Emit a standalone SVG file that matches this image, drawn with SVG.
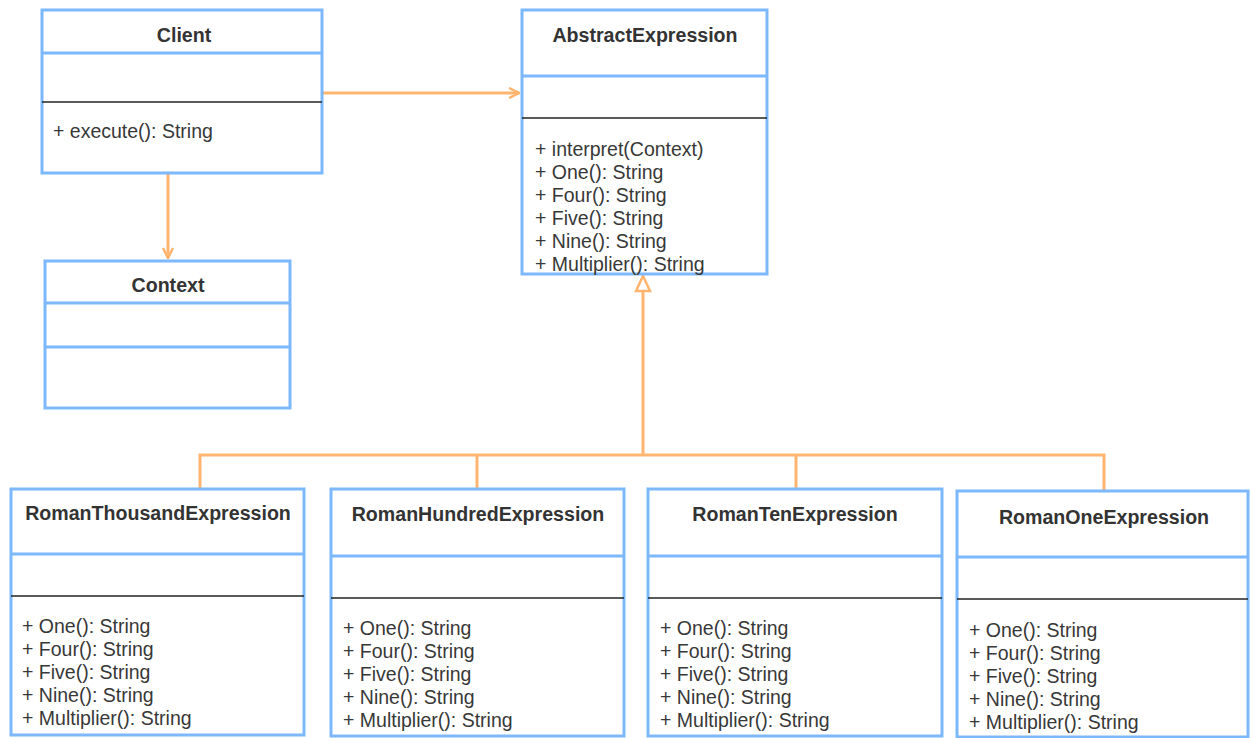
<svg xmlns="http://www.w3.org/2000/svg" width="1250" height="738" viewBox="0 0 1250 738">
<style>
.box{fill:#fff;stroke:#7db7fc;stroke-width:3}
.hl{stroke:#7db7fc;stroke-width:3}
.sep{stroke:#222;stroke-width:1.5}
.t{font-family:"Liberation Sans",Arial,sans-serif;font-size:19.6px;font-weight:bold;fill:#333;text-anchor:middle}
.m{font-family:"Liberation Sans",Arial,sans-serif;font-size:19.5px;fill:#383838}
.c{fill:none;stroke:#ffb570;stroke-width:3}
</style>
<defs>
<marker id="open" viewBox="0 0 12 12" refX="11" refY="6" markerWidth="12" markerHeight="12" markerUnits="userSpaceOnUse" orient="auto">
<path d="M1,1 L11,6 L1,11" fill="none" stroke="#ffb570" stroke-width="2.5"/>
</marker>
<marker id="tri" viewBox="0 0 18 18" refX="17" refY="9" markerWidth="18" markerHeight="18" markerUnits="userSpaceOnUse" orient="auto">
<path d="M2,2 L17,9 L2,16 Z" fill="#fff" stroke="#ffb570" stroke-width="2.5"/>
</marker>
</defs>
<g id="connectors">
<path class="c" d="M323,93 H519" marker-end="url(#open)"/>
<path class="c" d="M168,174 V258" marker-end="url(#open)"/>
<path class="c" d="M200,489 V455 H1104 V491"/>
<path class="c" d="M477,489 V455"/>
<path class="c" d="M796,489 V455"/>
<path class="c" d="M643,455 V276" marker-end="url(#tri)"/>
</g>
<g id="Client">
<rect class="box" x="42" y="10" width="280" height="163"/>
<line class="hl" x1="42" y1="53" x2="322" y2="53"/>
<line class="sep" x1="42" y1="102" x2="322" y2="102"/>
<text class="t" x="184" y="42">Client</text>
<text class="m" x="53" y="138">+ execute(): String</text>
</g>
<g id="AbstractExpression">
<rect class="box" x="522" y="10" width="245" height="264"/>
<line class="hl" x1="522" y1="76" x2="767" y2="76"/>
<line class="sep" x1="522" y1="118" x2="767" y2="118"/>
<text class="t" x="645" y="42">AbstractExpression</text>
<text class="m" x="535" y="156">+ interpret(Context)</text>
<text class="m" x="535" y="179">+ One(): String</text>
<text class="m" x="535" y="202">+ Four(): String</text>
<text class="m" x="535" y="225">+ Five(): String</text>
<text class="m" x="535" y="248">+ Nine(): String</text>
<text class="m" x="535" y="271">+ Multiplier(): String</text>
</g>
<g id="Context">
<rect class="box" x="45" y="261" width="245" height="147"/>
<line class="hl" x1="45" y1="303" x2="290" y2="303"/>
<line class="hl" x1="45" y1="347" x2="290" y2="347"/>
<text class="t" x="168" y="292">Context</text>
</g>
<g id="RomanThousandExpression">
<rect class="box" x="11" y="489" width="293" height="246"/>
<line class="hl" x1="11" y1="554" x2="304" y2="554"/>
<line class="sep" x1="11" y1="596" x2="304" y2="596"/>
<text class="t" x="158" y="520">RomanThousandExpression</text>
<text class="m" x="22" y="633">+ One(): String</text>
<text class="m" x="22" y="656">+ Four(): String</text>
<text class="m" x="22" y="679">+ Five(): String</text>
<text class="m" x="22" y="702">+ Nine(): String</text>
<text class="m" x="22" y="725">+ Multiplier(): String</text>
</g>
<g id="RomanHundredExpression">
<rect class="box" x="331" y="489" width="293" height="247"/>
<line class="hl" x1="331" y1="556" x2="624" y2="556"/>
<line class="sep" x1="331" y1="598" x2="624" y2="598"/>
<text class="t" x="478" y="521">RomanHundredExpression</text>
<text class="m" x="343" y="635">+ One(): String</text>
<text class="m" x="343" y="658">+ Four(): String</text>
<text class="m" x="343" y="681">+ Five(): String</text>
<text class="m" x="343" y="704">+ Nine(): String</text>
<text class="m" x="343" y="727">+ Multiplier(): String</text>
</g>
<g id="RomanTenExpression">
<rect class="box" x="648" y="489" width="294" height="247"/>
<line class="hl" x1="648" y1="556" x2="942" y2="556"/>
<line class="sep" x1="648" y1="598" x2="942" y2="598"/>
<text class="t" x="795" y="521">RomanTenExpression</text>
<text class="m" x="660" y="635">+ One(): String</text>
<text class="m" x="660" y="658">+ Four(): String</text>
<text class="m" x="660" y="681">+ Five(): String</text>
<text class="m" x="660" y="704">+ Nine(): String</text>
<text class="m" x="660" y="727">+ Multiplier(): String</text>
</g>
<g id="RomanOneExpression">
<rect class="box" x="957" y="491" width="291" height="246"/>
<line class="hl" x1="957" y1="557" x2="1248" y2="557"/>
<line class="sep" x1="957" y1="599" x2="1248" y2="599"/>
<text class="t" x="1104" y="524">RomanOneExpression</text>
<text class="m" x="969" y="637">+ One(): String</text>
<text class="m" x="969" y="660">+ Four(): String</text>
<text class="m" x="969" y="683">+ Five(): String</text>
<text class="m" x="969" y="706">+ Nine(): String</text>
<text class="m" x="969" y="729">+ Multiplier(): String</text>
</g>
</svg>
